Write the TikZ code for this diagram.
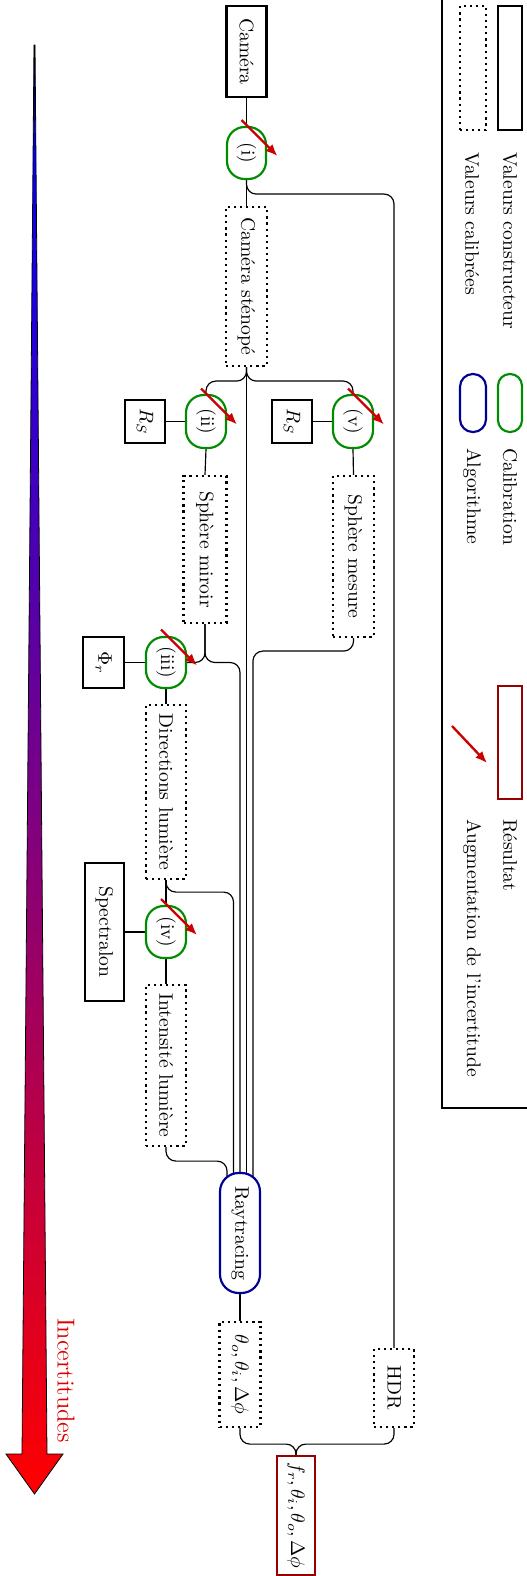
\documentclass[tikz,border=0pt]{standalone}
\usepackage{fontspec}
\usepackage{graphicx}
\usetikzlibrary{arrows.meta,calc}
\pgfdeclarelayer{bg}
\pgfsetlayers{bg,main}
\definecolor{calgreen}{RGB}{0,140,0}
\definecolor{algblue}{RGB}{0,0,150}
\definecolor{resred}{RGB}{150,0,0}
\definecolor{arrred}{RGB}{204,0,0}
\definecolor{inctext}{RGB}{220,0,0}
\pgfdeclareverticalshading{incshade}{100bp}{color(0bp)=(red); color(25bp)=(red); color(71.5bp)=(blue); color(75bp)=(black); color(100bp)=(black)}
\begin{document}
\begin{tikzpicture}[x=0.51pt,y=-0.51pt,
  every node/.style={inner sep=0pt, line width=1.1pt, font=\normalsize},
  sz/.style 2 args={minimum width=#1*0.51pt, minimum height=#2*0.51pt},
  const/.style={draw=black},
  calib/.style={draw=black, dotted},
  calb/.style={draw=calgreen, rounded corners=9pt},
  algo/.style={draw=algblue, fill=white, rounded corners=9.5pt},
  resl/.style={draw=resred},
  conn/.style={line width=0.6pt, rounded corners=5pt},
  incr/.style={-{Latex[length=6pt,width=5pt]}, line width=1.2pt, draw=arrred},
  lab/.style={anchor=north, inner sep=0pt}]
\useasboundingbox (0,0) rectangle (527,1576);

% nodes
\node[const, sz={40}{91}] (cam) at (246.5,51.5) {\rotatebox{-90}{Caméra}};
\node[calb, sz={39}{52}] (c1) at (246.5,153) {\rotatebox{-90}{(i)}};
\node[calib, sz={41}{159}] (sten) at (246.5,286.5) {\rotatebox{-90}{Caméra sténopé}};
\node[calb, sz={40}{53}] (c2) at (206,421.5) {\rotatebox{-90}{(ii)}};
\node[const, sz={40}{43}] (rs2) at (145,421.5) {\rotatebox{-90}{$R_S$}};
\node[calb, sz={40}{53}] (c5) at (353,421.5) {\rotatebox{-90}{(v)}};
\node[const, sz={40}{43}] (rs5) at (292,421.5) {\rotatebox{-90}{$R_S$}};
\node[calib, sz={43}{147}] (mir) at (205,549.5) {\rotatebox{-90}{Sphère miroir}};
\node[calib, sz={41}{161}] (mes) at (353.5,556.5) {\rotatebox{-90}{Sphère mesure}};
\node[calb, sz={40}{51}] (c3) at (166,662.5) {\rotatebox{-90}{(iii)}};
\node[const, sz={41}{51}] (phi) at (103.5,662.5) {\rotatebox{-90}{$\Phi_r$}};
\node[calib, sz={40}{174}] (dir) at (166,792) {\rotatebox{-90}{Directions lumière}};
\node[calb, sz={40}{52}] (c4) at (166,932) {\rotatebox{-90}{(iv)}};
\node[const, sz={39}{138}] (spec) at (104.5,932) {\rotatebox{-90}{Spectralon}};
\node[calib, sz={40}{161}] (int) at (166,1065.5) {\rotatebox{-90}{Intensité lumière}};
\node[algo, sz={40}{120}] (ray) at (240,1233) {\rotatebox{-90}{Raytracing}};
\node[calib, sz={41}{105}] (th) at (240,1374.5) {\rotatebox{-90}{$\theta_o, \theta_i, \Delta\phi$}};
\node[calib, sz={40}{78}] (hdr) at (394,1388) {\rotatebox{-90}{HDR}};
\node[resl, sz={38}{119}] (res) at (296,1515.5) {\rotatebox{-90}{$f_r, \theta_i, \theta_o, \Delta\phi$}};

\coordinate (rInt) at ($(ray.center)+(-13,0)$);
\coordinate (rDir) at ($(ray.center)+(-6.5,0)$);
\coordinate (rMes) at ($(ray.center)+(13,0)$);

% connectors
\begin{pgfonlayer}{bg}
\draw[conn] (cam.south) -- (c1.north);
\draw[conn] (c1.south) -- (sten.north);
\draw[conn] (c1.south) -- ++(0,14) -| (hdr.north);
\draw[conn] (sten.south) -- ++(0,14) -| (c2.north);
\draw[conn] (sten.south) -- ++(0,14) -| (c5.north);
\draw[conn] (sten.south) -- (sten.south |- ray.center);
\draw[conn] (rs2.east) -- (c2.west);
\draw[conn] (rs5.east) -- (c5.west);
\draw[conn] (c2.south) -- (mir.north);
\draw[conn] (c5.south) -- (mes.north);
\draw[conn] (mir.south) |- (c3.east);
\draw[conn] (mir.south) |- (c3.east -| ray.center) -- (ray.center);
\draw[conn] (mes.south) -- ++(0,13) -| (rMes);
\draw[conn] (phi.east) -- (c3.west);
\draw[conn] (c3.south) -- (dir.north);
\draw[conn] (dir.south) -- (c4.north);
\draw[conn] (dir.south) -- ++(0,12) -| (rDir);
\draw[conn] (spec.east) -- (c4.west);
\draw[conn] (c4.south) -- (int.north);
\draw[conn] (int.south) -- ++(0,14) -| (rInt);
\draw[conn] (ray.south) -- (th.north);
\draw[conn] (th.south) -- ++(0,16) -| (res.north);
\draw[conn] (hdr.south) -- ++(0,16) -| (res.north);
\end{pgfonlayer}

% uncertainty arrows
\foreach \c in {c1,c2,c3,c4,c5}{
  \draw[incr] ($(\c.center)+(-5,-33)$) -- ($(\c.center)+(31,3)$);
}

% legend
\draw[line width=1pt] (442,-2) -- (442,1108) -- (530,1108);
\node[const, sz={24}{124}] (lc) at (510,68) {};
\node[calib, sz={26}{124}] (lv) at (473,68) {};
\node[calb, rounded corners=6pt, sz={24}{58}] (lcal) at (510,403) {};
\node[algo, rounded corners=6.5pt, sz={26}{58}] (lalg) at (473,403) {};
\node[resl, sz={24}{113}] (lres) at (510,742.5) {};
\coordinate (la1) at (452,726);
\coordinate (la2) at (487,763);
\draw[incr] (la1) -- (la2);
\node[lab] (tlc) at (510,151) {\rotatebox{-90}{Valeurs constructeur}};
\node[lab] (tlv) at (472,151) {\rotatebox{-90}{Valeurs calibrées}};
\node[lab] (tlcal) at (510,447) {\rotatebox{-90}{Calibration}};
\node[lab] (tlalg) at (472,447) {\rotatebox{-90}{Algorithme}};
\node[lab] (tlres) at (510,818) {\rotatebox{-90}{Résultat}};
\node[lab] (tlinc) at (472,818) {\rotatebox{-90}{Augmentation de l'incertitude}};

% gradient arrow
\shadedraw[shading=incshade, line width=0.4pt] (34,45) -- (35,45) -- (47,1454) -- (63,1454) -- (34.5,1494) -- (6,1454) -- (22,1454) -- cycle;
\node[lab, text=inctext, font=\fontsize{12.5}{15}\selectfont] (inc) at (66,1317) {\rotatebox{-90}{Incertitudes}};
\end{tikzpicture}
\end{document}
